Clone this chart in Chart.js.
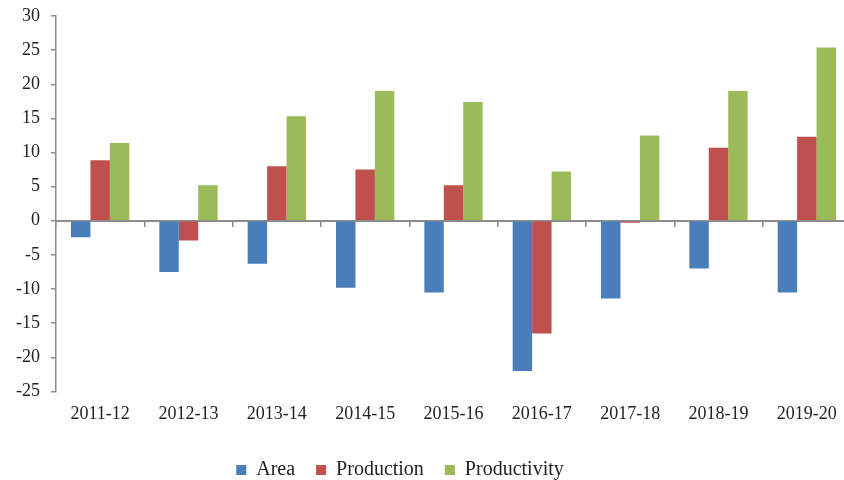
<!DOCTYPE html>
<html>
<head>
<meta charset="utf-8">
<script src="https://cdn.jsdelivr.net/npm/chart.js@4/dist/chart.umd.min.js"></script>
<style>
html,body{margin:0;padding:0;background:#fff;overflow:hidden;width:844px;height:480px;}
canvas{display:block;}
</style>
</head>
<body>
<canvas id="c" width="851" height="480"></canvas>
<script>
const categories = ["2011-12","2012-13","2013-14","2014-15","2015-16","2016-17","2017-18","2018-19","2019-20"];
const areaValues = [-2.4, -7.5, -6.3, -9.8, -10.5, -22.0, -11.4, -7.0, -10.5];
const productionValues = [8.85, -2.9, 8.0, 7.5, 5.2, -16.5, -0.3, 10.7, 12.3];
const productivityValues = [11.4, 5.2, 15.3, 19.0, 17.4, 7.2, 12.5, 19.0, 25.4];
const yMin = -25, yMax = 30, yStep = 5;

const FONT = "'Liberation Serif', 'Times New Roman', serif";
const AXIS_GREY = '#8c8c8c';

const legendShift = {
  id: 'legendShift',
  afterLayout(chart) {
    const lg = chart.legend;
    if (lg) { lg.left -= 28; lg.right -= 28; lg.top += 10; lg.bottom += 10; }
  }
};

new Chart(document.getElementById('c'), {
  type: 'bar',
  data: {
    labels: categories,
    datasets: [
      { label: 'Area', data: areaValues, backgroundColor: '#4a7ebb' },
      { label: 'Production', data: productionValues, backgroundColor: '#c0504d' },
      { label: 'Productivity', data: productivityValues, backgroundColor: '#9bbb59' }
    ]
  },
  options: {
    responsive: false,
    devicePixelRatio: 1,
    animation: false,
    layout: { padding: { left: 5, right: 0, top: 16, bottom: 0 } },
    datasets: { bar: { barPercentage: 1, categoryPercentage: 0.66 } },
    plugins: {
      legend: {
        position: 'bottom',
        maxHeight: 62,
        labels: {
          font: { family: FONT, size: 20 },
          color: '#222',
          boxWidth: 10,
          boxHeight: 10,
          padding: 21
        }
      },
      tooltip: { enabled: false }
    },
    scales: {
      x: {
        axis: 'x',
        type: 'category',
        position: { y: 0 },
        ticks: { display: false },
        grid: { display: true, drawOnChartArea: false, drawTicks: true, tickLength: 5, color: AXIS_GREY, lineWidth: 1.5, offset: true },
        border: { display: true, color: AXIS_GREY, width: 2 }
      },
      x2: {
        axis: 'x',
        type: 'category',
        labels: categories,
        position: 'bottom',
        grid: { display: false },
        border: { display: false },
        ticks: { font: { family: FONT, size: 18 }, color: '#222', padding: 4, maxRotation: 0 }
      },
      y: {
        min: yMin,
        max: yMax,
        afterFit(scale) { scale.paddingTop = 0; scale.paddingBottom = 0; },
        ticks: { stepSize: yStep, font: { family: FONT, size: 18 }, color: '#222', padding: 11 },
        grid: { drawOnChartArea: false, drawTicks: true, tickLength: 5, color: AXIS_GREY, lineWidth: 1.5 },
        border: { display: true, color: AXIS_GREY, width: 1.5 }
      }
    }
  },
  plugins: [legendShift]
});
</script>
</body>
</html>
